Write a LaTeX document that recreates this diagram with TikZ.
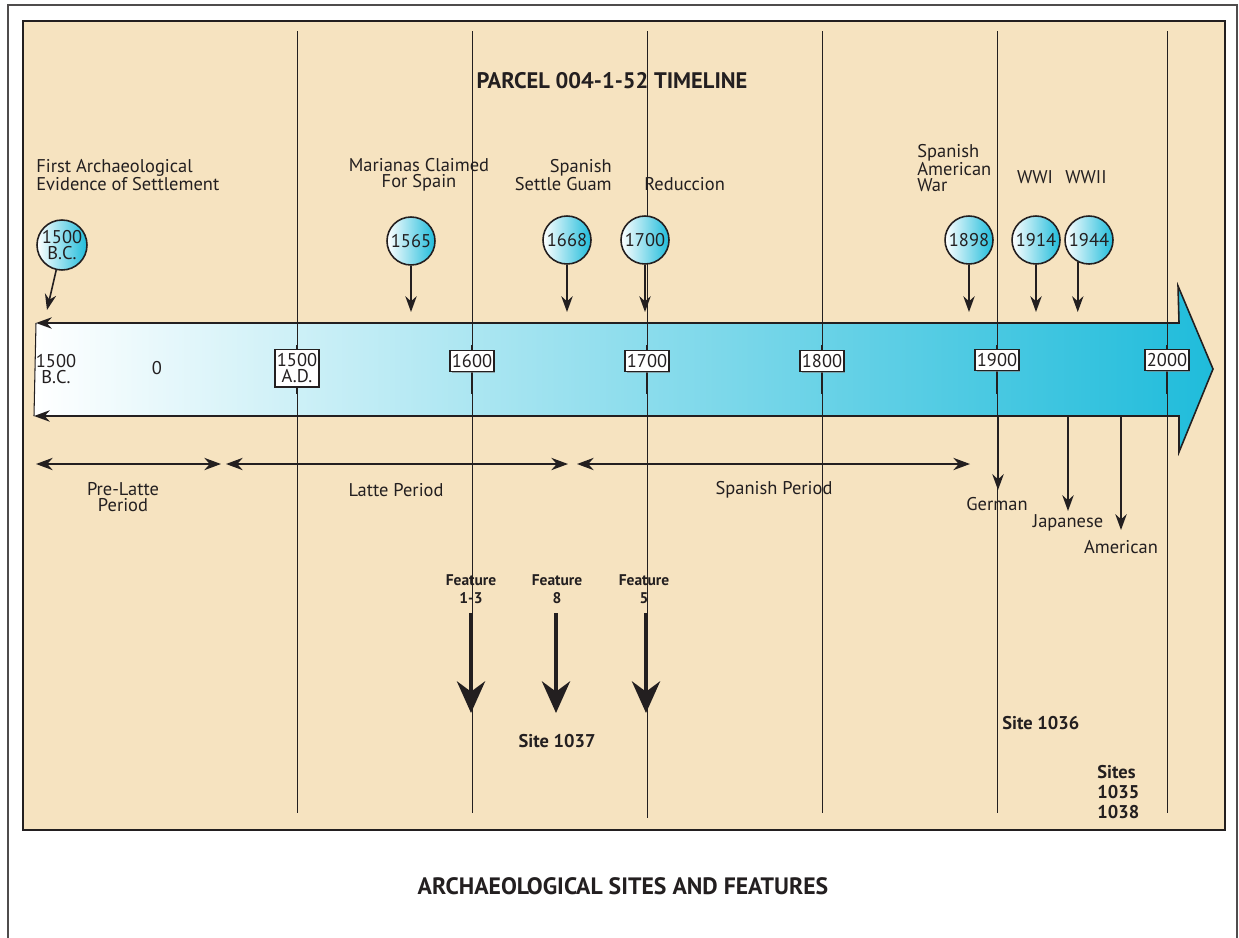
\documentclass[tikz,border=0pt]{standalone}
\usepackage{fontspec}
\setmainfont{PT Sans}
\usetikzlibrary{arrows.meta, shadows}
\definecolor{paneltan}{HTML}{F6E3C0}
\definecolor{bandcyan}{HTML}{1FBCDB}
\definecolor{inkdark}{HTML}{231F20}

\begin{document}
\begin{tikzpicture}[x=0.02cm, y=-0.02cm,
    every node/.style={text=inkdark, inner sep=0pt},
    lbl/.style={font=\fontsize{10.5}{9.3}\selectfont},
    boldlbl/.style={font=\bfseries\fontsize{10.5}{11.6}\selectfont},
    featlbl/.style={font=\bfseries\fontsize{8.8}{10.2}\selectfont, align=center},
    event/.style={circle, draw=inkdark, line width=0.9pt, minimum size=0.96cm,
        left color=white, right color=bandcyan, align=center,
        font=\fontsize{10.5}{9.3}\selectfont},
    yearbox/.style={draw=inkdark, line width=0.9pt, fill=white, inner xsep=1pt,
        inner ysep=2.2pt, align=center, font=\fontsize{10.5}{9.3}\selectfont,
        drop shadow={shadow xshift=0.8pt, shadow yshift=-0.8pt, opacity=0.6}},
    vline/.style={draw=inkdark, line width=0.45pt},
    evarrow/.style={draw=inkdark, line width=0.9pt, -{Stealth[length=9pt, width=6.5pt]}},
    periodarrow/.style={draw=inkdark, line width=0.9pt,
        {Stealth[length=9.5pt, width=7pt]}-{Stealth[length=9.5pt, width=7pt]}},
    occarrow/.style={draw=inkdark, line width=1pt, -{Stealth[length=9pt, width=6.5pt]}},
    featarrow/.style={draw=inkdark, line width=2.3pt, -{Stealth[length=18pt, width=16pt]}}]
    \useasboundingbox (0,0) rectangle (1239,937);

    % Frame and panel
    \draw[inkdark!80, line width=0.6pt] (8,940) -- (8,5) -- (1237,5) -- (1237,940);
    \draw[fill=paneltan, draw=inkdark, line width=1pt] (23,21) rectangle (1225,830);

    % Timeline band
    \shade[left color=white, right color=bandcyan] (36,323) -- (1179,323) -- (1178,286)
        -- (1213,369) -- (1179,452) -- (1179,416) -- (34,416) -- cycle;

    % Century lines
    \foreach \x/\yb in {297/813, 472/813, 647/818, 822/813, 997/813, 1167/813} {
        \draw[vline] (\x,31) -- (\x,\yb);
        \draw[inkdark, line width=1.3pt] (\x,345) -- (\x,394);
    }

    % Band outline
    \draw[inkdark, line width=0.9pt, {Stealth[length=9pt, width=6.5pt]}-{Stealth[length=9pt, width=6.5pt]}]
        (34,416) -- (1179,416) -- (1179,452) -- (1213,369) -- (1178,286) -- (1179,323) -- (36,323);
    \draw[inkdark, line width=0.6pt] (36,323) -- (34,416);

    % Title
    \node[font=\bfseries\fontsize{12.8}{14}\selectfont] (title) at (612,81) {PARCEL 004-1-52 TIMELINE};

    % Years on the band
    \node[lbl, align=center] (bc) at (56,369) {1500\\B.C.};
    \node[lbl] (zero) at (157,368) {0};
    \node[yearbox] (y1500) at (297,368) {1500\\A.D.};
    \node[yearbox] (y1600) at (472,361) {1600};
    \node[yearbox] (y1700) at (647,361) {1700};
    \node[yearbox] (y1800) at (822,361) {1800};
    \node[yearbox] (y1900) at (997,360) {1900};
    \node[yearbox] (y2000) at (1167,360) {2000};

    % Events
    \node[lbl, anchor=west, align=left] (lFirst) at (36,175) {First Archaeological\\Evidence of Settlement};
    \node[lbl, align=center] (lMarianas) at (419,175) {Marianas Claimed\\For Spain};
    \node[lbl, anchor=east, align=right] (lSettle) at (612,175) {Spanish\\Settle Guam};
    \node[lbl, anchor=west] (lReduccion) at (644,184) {Reduccion};
    \node[lbl, anchor=west, align=left] (lWar) at (917,168) {Spanish\\American\\War};
    \node[lbl] (lWWI) at (1035,177) {WWI};
    \node[lbl] (lWWII) at (1086,177) {WWII};

    \node[event] (e1500) at (62,245) {1500\\B.C.};
    \node[event] (e1565) at (411,241) {1565};
    \node[event] (e1668) at (567,240) {1668};
    \node[event] (e1700) at (645,240) {1700};
    \node[event] (e1898) at (969,240) {1898};
    \node[event] (e1914) at (1036,240) {1914};
    \node[event] (e1944) at (1089,240) {1944};

    \coordinate (evtip) at (0,312);
    \coordinate (bctip) at (47,310);
    \draw[evarrow] (e1500) -- (bctip);
    \foreach \e in {e1565, e1668, e1700, e1898, e1914} {
        \draw[evarrow] (\e) -- (\e |- evtip);
    }
    \draw[evarrow] (e1944.243) -- (e1944.243 |- evtip);

    % Periods
    \coordinate (preL) at (36,464);
    \coordinate (preR) at (221,464);
    \coordinate (latteL) at (226,464);
    \coordinate (latteR) at (568,464);
    \coordinate (spanL) at (577,464);
    \coordinate (spanR) at (970,464);
    \draw[periodarrow] (preL) -- (preR);
    \draw[periodarrow] (latteL) -- (latteR);
    \draw[periodarrow] (spanL) -- (spanR);
    \node[lbl, align=center] (lPre) at (123,497) {Pre-Latte\\Period};
    \node[lbl] (lLatte) at (396,490) {Latte Period};
    \node[lbl] (lSpan) at (774,490) {Spanish Period};

    % Administrations
    \coordinate (bandbot) at (0,416);
    \coordinate (gerTip) at (998,490);
    \coordinate (japTip) at (1068,511);
    \coordinate (amTip) at (1121,530);
    \draw[occarrow, line width=1.3pt] (gerTip |- bandbot) -- (gerTip);
    \draw[occarrow] (japTip |- bandbot) -- (japTip);
    \draw[occarrow] (amTip |- bandbot) -- (amTip);
    \node[lbl] (lGerman) at (997,504) {German};
    \node[lbl] (lJapanese) at (1068,523) {Japanese};
    \node[lbl] (lAmerican) at (1121,547) {American};

    % Features and sites
    \node[featlbl] (f13) at (471,589) {Feature\\1-3};
    \node[featlbl] (f8) at (557,589) {Feature\\8};
    \node[featlbl] (f5) at (644,589) {Feature\\5};
    \coordinate (fstart) at (0,613);
    \coordinate (f13Tip) at (471,713);
    \coordinate (f8Tip) at (556,713);
    \coordinate (f5Tip) at (646,713);
    \draw[featarrow] (f13Tip |- fstart) -- (f13Tip);
    \draw[featarrow] (f8Tip |- fstart) -- (f8Tip);
    \draw[featarrow] (f5Tip |- fstart) -- (f5Tip);

    \node[boldlbl] (s1037) at (557,741) {Site 1037};
    \node[boldlbl, anchor=west] (s1036) at (1002,723) {Site 1036};
    \node[boldlbl, anchor=west, align=left] (s1035) at (1097,792) {Sites\\1035\\1038};

    % Footer
    \node[font=\bfseries\fontsize{13.5}{15}\selectfont] (footer) at (623,886) {ARCHAEOLOGICAL SITES AND FEATURES};
\end{tikzpicture}
\end{document}
